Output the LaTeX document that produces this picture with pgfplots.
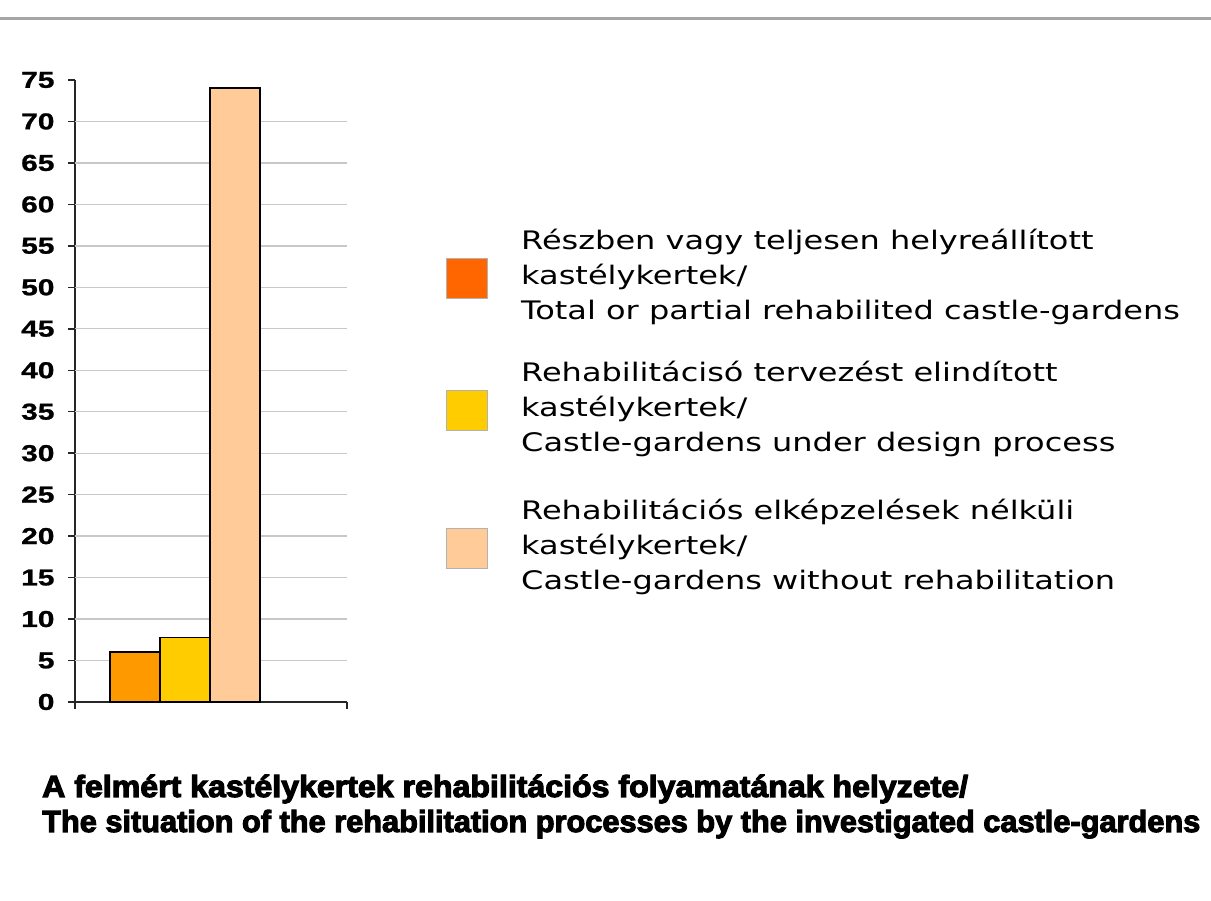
\documentclass[border=0pt]{standalone}
\usepackage{pgfplots}
\pgfplotsset{compat=1.18}
\usepackage{graphicx}
\usepackage{fontspec}
\setmainfont{DejaVu Sans}[FakeStretch=1.255]
\newfontfamily\tickfont{Liberation Sans}[FakeStretch=1.3,FakeBold=1]
\newfontfamily\titlefont{Liberation Sans}[FakeBold=3.5]
\definecolor{barA}{HTML}{FF9900}
\definecolor{barB}{HTML}{FFCC00}
\definecolor{barC}{HTML}{FFCC99}
\definecolor{swA}{HTML}{FF6600}
\definecolor{gridc}{HTML}{C8C8C8}
\begin{document}
\begin{tikzpicture}[x=1pt,y=1pt]
\useasboundingbox (0,0) rectangle (1211,901);
\fill[white] (0,0) rectangle (1211,901);
\draw[line width=3pt, color=black!35] (0,882.5) -- (1211,882.5);
\begin{axis}[
  at={(75pt,199pt)}, anchor=south west,
  scale only axis, width=272pt, height=622pt,
  enlargelimits=false,
  xmin=-1.2, xmax=4.24, ymin=0, ymax=75,
  axis x line=bottom, axis y line=left,
  axis line style={-, line width=1.8pt, color=black!85},
  tick align=outside,
  major tick length=7pt,
  tick style={line width=1.5pt, color=black!85},
  xtick={-1.2,4.24}, xticklabels={},
  ytick={0,5,...,75},
  extra y ticks={5,10,...,70},
  extra y tick labels={},
  extra y tick style={grid=major, major tick length=0pt},
  grid style={line width=1.3pt, color=gridc},
  /pgf/number format/assume math mode=true,
  yticklabel style={font=\tickfont\bfseries\fontsize{23}{23}\selectfont, xshift=-10pt},
  clip=false,
]
\addplot[ybar, bar width=1, bar shift=0pt, fill=barA, draw=black, line width=1.6pt] coordinates {(0,6)};
\addplot[ybar, bar width=1, bar shift=0pt, fill=barB, draw=black, line width=1.6pt] coordinates {(1,7.8)};
\addplot[ybar, bar width=1, bar shift=0pt, fill=barC, draw=black, line width=1.6pt] coordinates {(2,74)};
\end{axis}
% legend
\fill[swA, draw=black!30, line width=0.8pt] (446,603) rectangle (487,643);
\fill[barB, draw=black!30, line width=0.8pt] (446,471) rectangle (487,511);
\fill[barC, draw=black!30, line width=0.8pt] (446,333) rectangle (487,373);
\begin{scope}[every node/.style={anchor=base west, inner sep=0pt, font=\fontsize{25.5}{30}\selectfont}]
\node at (521,651) {Részben vagy teljesen helyreállított};
\node at (521,616) {kastélykertek/};
\node at (521,581) {Total or partial rehabilited castle-gardens};
\node at (521,519) {Rehabilitácisó tervezést elindított};
\node at (521,484) {kastélykertek/};
\node at (521,449) {Castle-gardens under design process};
\node at (521,381) {Rehabilitációs elképzelések nélküli};
\node at (521,346) {kastélykertek/};
\node at (521,311) {Castle-gardens without rehabilitation};
\end{scope}
\begin{scope}[every node/.style={anchor=base west, inner sep=0pt, font=\titlefont\bfseries\fontsize{30.5}{32}\selectfont}]
\node at (42,104) {\resizebox{926pt}{\height}{A felmért kastélykertek rehabilitációs folyamatának helyzete/}};
\node at (42,69) {\resizebox{1158pt}{\height}{The situation of the rehabilitation processes by the investigated castle-gardens}};
\end{scope}
\end{tikzpicture}
\end{document}
